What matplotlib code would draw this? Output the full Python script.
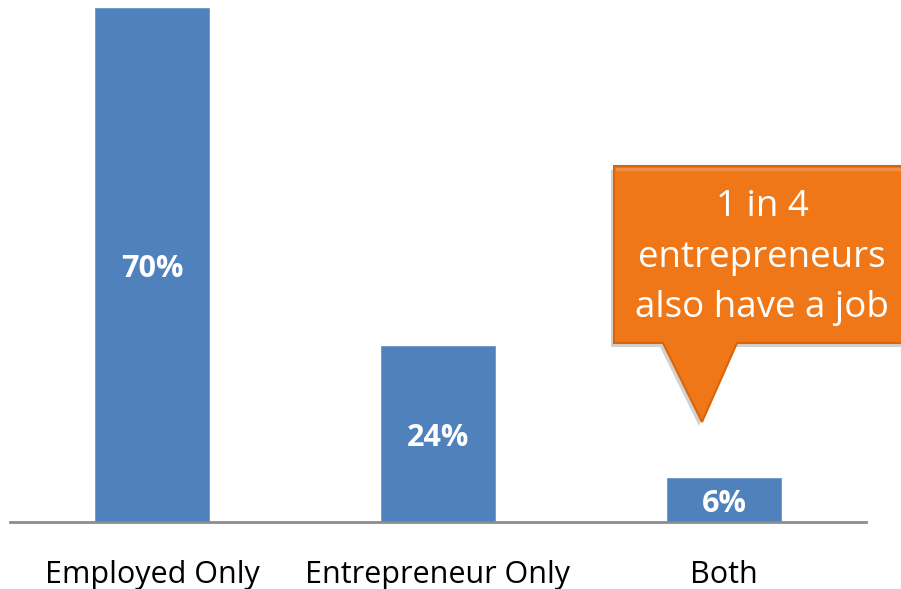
import matplotlib
matplotlib.use("Agg")
import matplotlib.pyplot as plt
from matplotlib.patches import Polygon

categories = ["Employed Only", "Entrepreneur Only", "Both"]
shares = [70, 24, 6]
value_labels = ["70%", "24%", "6%"]
callout_lines = ["1 in 4", "entrepreneurs", "also have a job"]

W, H = 901, 589
fig = plt.figure(figsize=(W / 100, H / 100), dpi=100)
fig.patch.set_facecolor("white")

# axes spans the baseline region
ax = fig.add_axes([10 / W, (H - 522) / H, (866 - 10) / W, 522 / H])
ax.set_xlim(-0.4965, 2.4965)
ax.set_ylim(0, 70 * 522 / 514)

x = list(range(len(categories)))
bars = ax.bar(x, shares, width=0.4, color="#4F81BD", edgecolor="#6B96CA",
              linewidth=0.6, zorder=2)

for xi, v, lab in zip(x, shares, value_labels):
    yc = min(v / 2, v - 2.1) - 0.6
    ax.text(xi, yc, lab, ha="center", va="center", color="white",
            fontsize=22, fontweight="bold", family="Open Sans", zorder=3)

for s in ["top", "left", "right"]:
    ax.spines[s].set_visible(False)
ax.spines["bottom"].set_color("#8C8C8C")
ax.spines["bottom"].set_linewidth(2)
ax.set_yticks([])
ax.set_xticks(x)
ax.set_xticklabels(categories, family="Open Sans", fontsize=22, color="black")
ax.tick_params(axis="x", length=0, pad=38)
for t in ax.get_xticklabels():
    t.set_va("center")
ax.patch.set_visible(False)

# callout bubble, drawn in figure pixel space (y measured from top)
def px(pts):
    return [(a / W, 1 - b / H) for a, b in pts]

shape = [(614, 166), (905, 166), (905, 343), (737, 343), (702, 422),
         (663, 343), (614, 343)]
shadow = [(a - 3, b + 4) for a, b in shape]
fig.patches.append(Polygon(px(shadow), closed=True, transform=fig.transFigure,
                           facecolor="#9a9a9a", alpha=0.45, edgecolor="none",
                           zorder=4))
fig.patches.append(Polygon(px(shape), closed=True, transform=fig.transFigure,
                           facecolor="#F07717", edgecolor="#D8650C",
                           linewidth=1.5, zorder=5))
# light top bevel
bevel = [(616, 168), (903, 168), (903, 171), (616, 171)]
fig.patches.append(Polygon(px(bevel), closed=True, transform=fig.transFigure,
                           facecolor="#F6A060", alpha=0.6, edgecolor="none",
                           zorder=6))

for yy, line in zip([207, 258, 308], callout_lines):
    fig.text(762 / W, 1 - yy / H, line, ha="center", va="center",
             color="white", fontsize=26.5, family="Open Sans", zorder=7)

fig.savefig("out.png", dpi=100, facecolor="white")
